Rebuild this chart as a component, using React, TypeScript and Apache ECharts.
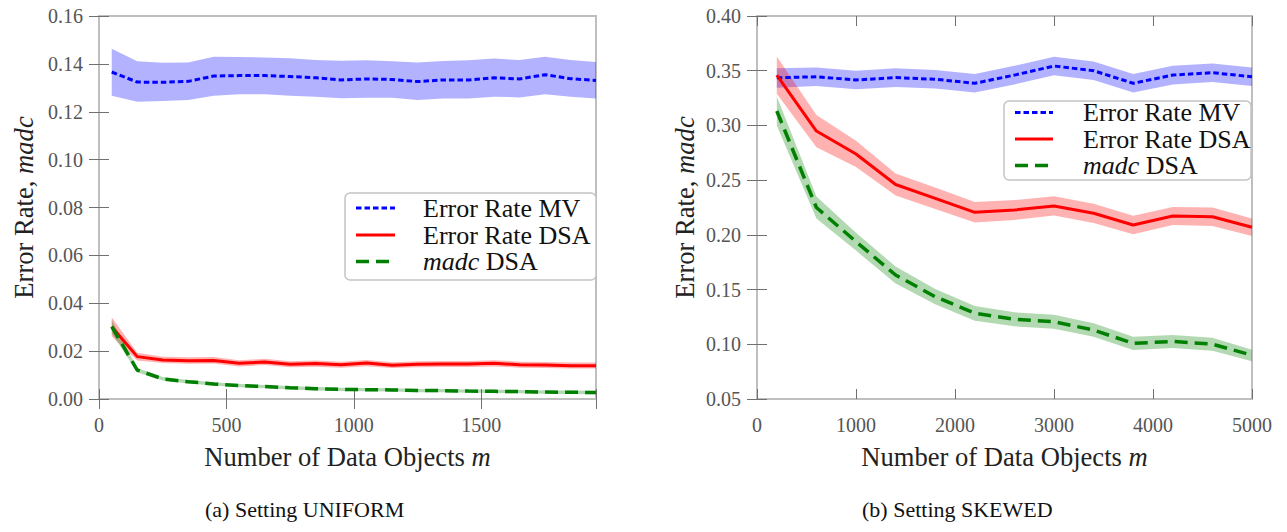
import React, { useEffect, useRef } from 'react';
import * as echarts from 'echarts';

const SERIF = "'Liberation Serif', 'Times New Roman', Times, serif";

// ---------- (a) Setting UNIFORM ----------
const xUniform = [50, 150, 250, 350, 450, 550, 650, 750, 850, 950, 1050, 1150, 1250, 1350, 1450, 1550, 1650, 1750, 1850, 1950];
const mvUniform = [0.1366, 0.1324, 0.1323, 0.1327, 0.1349, 0.1351, 0.1351, 0.1347, 0.1342, 0.1333, 0.1337, 0.1335, 0.1326, 0.1333, 0.1333, 0.1342, 0.1337, 0.1355, 0.1338, 0.1331];
const mvUniformHi = [0.1463, 0.1411, 0.1405, 0.1406, 0.1430, 0.1429, 0.1427, 0.1423, 0.1416, 0.1413, 0.1415, 0.1411, 0.1406, 0.1412, 0.1415, 0.1422, 0.1416, 0.1430, 0.1416, 0.1408];
const mvUniformLo = [0.1267, 0.1242, 0.1245, 0.1249, 0.1267, 0.1273, 0.1273, 0.1267, 0.1263, 0.1256, 0.1258, 0.1258, 0.1249, 0.1255, 0.1255, 0.1263, 0.1260, 0.1273, 0.1263, 0.1255];
const dsaUniform = [0.0302, 0.0177, 0.0163, 0.0160, 0.0161, 0.0149, 0.0155, 0.0145, 0.0148, 0.0143, 0.0150, 0.0141, 0.0145, 0.0146, 0.0146, 0.0149, 0.0143, 0.0142, 0.0139, 0.0139];
const dsaUniformHi = [0.0342, 0.0193, 0.0177, 0.0174, 0.0175, 0.0162, 0.0168, 0.0158, 0.0161, 0.0156, 0.0163, 0.0154, 0.0158, 0.0159, 0.0159, 0.0162, 0.0156, 0.0155, 0.0152, 0.0152];
const dsaUniformLo = [0.0262, 0.0161, 0.0150, 0.0147, 0.0148, 0.0136, 0.0142, 0.0133, 0.0135, 0.0131, 0.0137, 0.0129, 0.0133, 0.0134, 0.0134, 0.0136, 0.0131, 0.0130, 0.0127, 0.0127];
const madcUniform = [0.0302, 0.0121, 0.0084, 0.0072, 0.0063, 0.0056, 0.0052, 0.0047, 0.0043, 0.0040, 0.0039, 0.0038, 0.0035, 0.0035, 0.0033, 0.0032, 0.0031, 0.0029, 0.0028, 0.0027];
const madcUniformHi = [0.0330, 0.0130, 0.0092, 0.0079, 0.0070, 0.0063, 0.0059, 0.0054, 0.0050, 0.0047, 0.0046, 0.0045, 0.0042, 0.0042, 0.0040, 0.0039, 0.0038, 0.0036, 0.0035, 0.0034];
const madcUniformLo = [0.0275, 0.0112, 0.0077, 0.0065, 0.0056, 0.0049, 0.0045, 0.0040, 0.0036, 0.0033, 0.0032, 0.0031, 0.0028, 0.0028, 0.0026, 0.0025, 0.0024, 0.0022, 0.0021, 0.0020];

// ---------- (b) Setting SKEWED ----------
const xSkewed = [200, 600, 1000, 1400, 1800, 2200, 2600, 3000, 3400, 3800, 4200, 4600, 5000];
const mvSkewed = [0.3435, 0.3445, 0.3415, 0.3437, 0.3422, 0.3385, 0.3460, 0.3543, 0.3500, 0.3385, 0.3460, 0.3482, 0.3445];
const mvSkewedHi = [0.3522, 0.3530, 0.3500, 0.3522, 0.3507, 0.3470, 0.3545, 0.3628, 0.3585, 0.3470, 0.3545, 0.3567, 0.3530];
const mvSkewedLo = [0.3345, 0.3360, 0.3330, 0.3352, 0.3337, 0.3300, 0.3375, 0.3458, 0.3415, 0.3300, 0.3375, 0.3397, 0.3360];
const dsaSkewed = [0.3460, 0.2949, 0.2739, 0.2460, 0.2334, 0.2206, 0.2227, 0.2264, 0.2197, 0.2090, 0.2172, 0.2166, 0.2069];
const dsaSkewedHi = [0.3630, 0.3095, 0.2860, 0.2560, 0.2432, 0.2300, 0.2318, 0.2352, 0.2285, 0.2175, 0.2255, 0.2250, 0.2150];
const dsaSkewedLo = [0.3290, 0.2800, 0.2620, 0.2360, 0.2236, 0.2112, 0.2136, 0.2176, 0.2109, 0.2005, 0.2089, 0.2082, 0.1990];
const madcSkewed = [0.3132, 0.2250, 0.1938, 0.1633, 0.1435, 0.1283, 0.1228, 0.1206, 0.1130, 0.1008, 0.1026, 0.1001, 0.0900];
const madcSkewedHi = [0.3265, 0.2350, 0.2020, 0.1710, 0.1505, 0.1350, 0.1292, 0.1270, 0.1192, 0.1068, 0.1085, 0.1060, 0.0950];
const madcSkewedLo = [0.3000, 0.2150, 0.1856, 0.1556, 0.1365, 0.1216, 0.1164, 0.1142, 0.1068, 0.0948, 0.0967, 0.0942, 0.0845];

const legendNames = ['Error Rate MV', 'Error Rate DSA', '{i|madc} DSA'];
const captions = ['(a) Setting UNIFORM', '(b) Setting SKEWED'];
const xTitle = 'Number of Data Objects {i|m}';
const yTitle = 'Error Rate, {i|madc}';

const BLUE = '#0000ff';
const RED = '#ff0000';
const GREEN = '#008000';
const BAND_BLUE = 'rgba(0,0,255,0.3)';
const BAND_RED = 'rgba(255,0,0,0.3)';
const BAND_GREEN = 'rgba(0,128,0,0.3)';
const DASH_MV = [5.5, 3];
const DASH_MADC = [13, 7];
const TITLE_SIZE = 26.6;
const LEGEND_SIZE = 26;

function band(xs: number[], lo: number[], hi: number[], color: string, axis: number) {
  return {
    type: 'custom',
    xAxisIndex: axis * 2,
    yAxisIndex: axis * 2,
    silent: true,
    z: 1,
    data: xs.map((x, i) => [x, lo[i], hi[i]]),
    encode: { x: 0, y: [1, 2] },
    renderItem: (params: any, api: any) => {
      if (params.dataIndex !== 0) return null;
      const pts: number[][] = [];
      for (let i = 0; i < xs.length; i++) pts.push(api.coord([xs[i], hi[i]]));
      for (let i = xs.length - 1; i >= 0; i--) pts.push(api.coord([xs[i], lo[i]]));
      return { type: 'polygon', shape: { points: pts }, style: { fill: color } };
    },
  };
}

function line(name: string, xs: number[], ys: number[], color: string, width: number, dash: any, axis: number) {
  return {
    type: 'line',
    name,
    xAxisIndex: axis * 2,
    yAxisIndex: axis * 2,
    showSymbol: false,
    symbol: 'none',
    z: 3,
    data: xs.map((x, i) => [x, ys[i]]),
    lineStyle: { color, width, type: dash },
  };
}

const tickStyle = { show: true, inside: true, length: 10, lineStyle: { color: '#707070', width: 1 } };
const labelStyle = { fontFamily: SERIF, fontSize: 20, color: '#555555', margin: 16 };
const nameStyle = {
  fontFamily: SERIF,
  fontSize: TITLE_SIZE,
  color: '#222222',
  rich: { i: { fontFamily: SERIF, fontSize: TITLE_SIZE, fontStyle: 'italic', color: '#222222' } },
};

function xAxes(grid: number, max: number, interval: number) {
  return [
    {
      type: 'value', gridIndex: grid, position: 'bottom', min: 0, max, interval,
      axisLine: { show: false }, splitLine: { show: false }, axisTick: tickStyle,
      axisLabel: { ...labelStyle, formatter: (v: number) => (v % interval === 0 ? String(v) : '') },
      name: xTitle, nameLocation: 'middle', nameGap: 44, nameTextStyle: nameStyle,
    },
    {
      type: 'value', gridIndex: grid, position: 'top', min: 0, max, interval,
      axisLine: { show: false }, splitLine: { show: false }, axisTick: tickStyle,
      axisLabel: { show: false },
    },
  ];
}

function yAxes(grid: number, min: number, max: number, interval: number, gap: number) {
  return [
    {
      type: 'value', gridIndex: grid, position: 'left', min, max, interval,
      axisLine: { show: false }, splitLine: { show: false }, axisTick: tickStyle,
      axisLabel: { ...labelStyle, formatter: (v: number) => v.toFixed(2) },
      name: yTitle, nameLocation: 'middle', nameGap: gap, nameTextStyle: nameStyle,
    },
    {
      type: 'value', gridIndex: grid, position: 'right', min, max, interval,
      axisLine: { show: false }, splitLine: { show: false }, axisTick: tickStyle,
      axisLabel: { show: false },
    },
  ];
}

function legendBox(left: number, top: number, right: number, bottom: number, lineX1: number, lineX2: number, textX: number, rows: number[]) {
  const els: any[] = [
    {
      type: 'rect',
      shape: { x: left, y: top, width: right - left, height: bottom - top, r: 5 },
      style: { fill: '#ffffff', stroke: '#c4c4c4', lineWidth: 1.5 },
      z: 10,
    },
  ];
  const colors = [BLUE, RED, GREEN];
  const dashes = [DASH_MV, null, DASH_MADC];
  const widths = [3, 3, 3.5];
  rows.forEach((y, i) => {
    els.push({
      type: 'line',
      shape: { x1: lineX1, y1: y, x2: lineX2, y2: y },
      style: { stroke: colors[i], lineWidth: widths[i], lineDash: dashes[i] || undefined },
      z: 11,
    });
    els.push({
      type: 'text',
      x: textX,
      y,
      z: 11,
      style: {
        text: legendNames[i],
        fontFamily: SERIF,
        fontSize: LEGEND_SIZE,
        lineHeight: 22,
        fill: '#111111',
        align: 'left',
        verticalAlign: 'middle',
        rich: { i: { fontFamily: SERIF, fontSize: LEGEND_SIZE, lineHeight: 22, fontStyle: 'italic', fill: '#111111' } },
      },
    });
  });
  return els;
}

export default function App() {
  const ref = useRef<HTMLDivElement>(null);

  useEffect(() => {
    if (!ref.current) return;
    const chart = echarts.init(ref.current, null, { renderer: 'svg' });
    const option: any = {
      animation: false,
      backgroundColor: '#ffffff',
      grid: [
        { left: 99, top: 16, width: 497, height: 383, show: true, borderColor: '#bfbfbf', borderWidth: 2, backgroundColor: 'transparent' },
        { left: 757, top: 16, width: 495, height: 383, show: true, borderColor: '#bfbfbf', borderWidth: 2, backgroundColor: 'transparent' },
      ],
      xAxis: [...xAxes(0, 1950, 500), ...xAxes(1, 5000, 1000)],
      yAxis: [...yAxes(0, 0, 0.16, 0.02, 62), ...yAxes(1, 0.05, 0.4, 0.05, 59)],
      series: [
        band(xUniform, mvUniformLo, mvUniformHi, BAND_BLUE, 0),
        band(xUniform, dsaUniformLo, dsaUniformHi, BAND_RED, 0),
        band(xUniform, madcUniformLo, madcUniformHi, BAND_GREEN, 0),
        line('Error Rate MV', xUniform, mvUniform, BLUE, 3, DASH_MV, 0),
        line('Error Rate DSA', xUniform, dsaUniform, RED, 3, 'solid', 0),
        line('madc DSA', xUniform, madcUniform, GREEN, 3.5, DASH_MADC, 0),
        band(xSkewed, mvSkewedLo, mvSkewedHi, BAND_BLUE, 1),
        band(xSkewed, dsaSkewedLo, dsaSkewedHi, BAND_RED, 1),
        band(xSkewed, madcSkewedLo, madcSkewedHi, BAND_GREEN, 1),
        line('Error Rate MV', xSkewed, mvSkewed, BLUE, 3, DASH_MV, 1),
        line('Error Rate DSA', xSkewed, dsaSkewed, RED, 3, 'solid', 1),
        line('madc DSA', xSkewed, madcSkewed, GREEN, 3.5, DASH_MADC, 1),
      ],
      graphic: [
        ...legendBox(345, 193, 596, 280, 356, 395, 423, [208, 235, 261.5]),
        ...legendBox(1004, 101, 1251, 180, 1015, 1053, 1083, [112.5, 139, 165.5]),
        {
          type: 'text', x: 205, y: 509,
          style: { text: captions[0], fontFamily: SERIF, fontSize: 22, fill: '#111111', align: 'left', verticalAlign: 'middle' },
        },
        {
          type: 'text', x: 862, y: 509,
          style: { text: captions[1], fontFamily: SERIF, fontSize: 22, fill: '#111111', align: 'left', verticalAlign: 'middle' },
        },
      ],
    };
    chart.setOption(option);
    return () => chart.dispose();
  }, []);

  return (
    <div
      ref={ref}
      style={{ position: 'absolute', left: 0, top: 0, width: 1287, height: 532, background: '#ffffff' }}
    />
  );
}
